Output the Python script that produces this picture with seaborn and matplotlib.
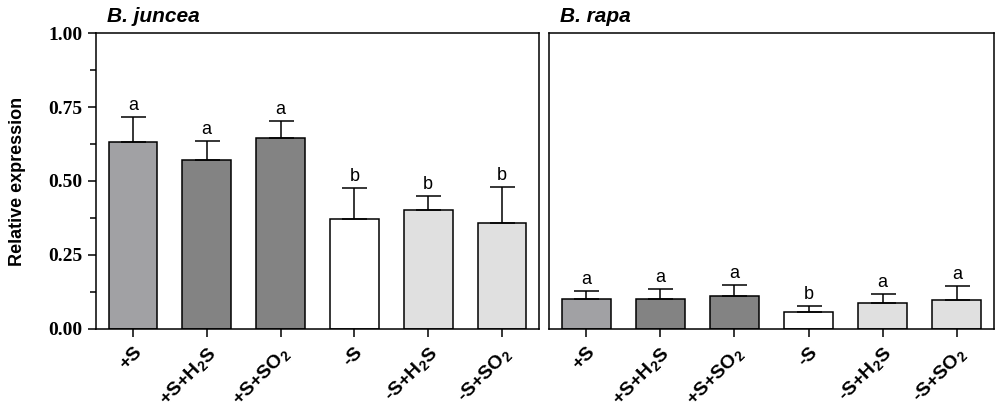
import numpy as np
import pandas as pd
import seaborn as sns
import matplotlib
matplotlib.use('Agg')
import matplotlib.pyplot as plt
from matplotlib.ticker import MultipleLocator

# data
treatments = ['+S', '+S+H2S', '+S+SO2', '-S', '-S+H2S', '-S+SO2']
tick_labels = [r'+S', r'+S+H$_\mathbf{2}$S', r'+S+SO$_\mathbf{2}$',
               r'-S', r'-S+H$_\mathbf{2}$S', r'-S+SO$_\mathbf{2}$']
juncea_mean = [0.632, 0.570, 0.646, 0.370, 0.401, 0.359]
juncea_sd = [0.085, 0.066, 0.058, 0.106, 0.049, 0.121]
juncea_letters = ['a', 'a', 'a', 'b', 'b', 'b']
rapa_mean = [0.099, 0.101, 0.110, 0.057, 0.087, 0.096]
rapa_sd = [0.028, 0.033, 0.038, 0.019, 0.030, 0.050]
rapa_letters = ['a', 'a', 'a', 'b', 'a', 'a']
bar_colors = ['#a1a1a4', '#838383', '#838383', '#ffffff', '#e0e0e0', '#e0e0e0']

sns.set_style('ticks')
plt.rcParams['font.family'] = ['Liberation Sans', 'DejaVu Sans']
plt.rcParams['mathtext.fontset'] = 'custom'
plt.rcParams['mathtext.bf'] = 'Liberation Sans:bold'
plt.rcParams['mathtext.rm'] = 'Liberation Sans'
for key in ['text.color', 'axes.edgecolor', 'axes.labelcolor',
            'xtick.color', 'ytick.color']:
    plt.rcParams[key] = 'black'

fig = plt.figure(figsize=(10, 4.16), dpi=100)
ax1 = fig.add_axes([0.096, 0.21, 0.443, 0.710])
ax2 = fig.add_axes([0.549, 0.21, 0.445, 0.710])

palette = dict(zip(treatments, bar_colors))


def draw_panel(ax, mean, sd, letters, title):
    df = pd.DataFrame({'treatment': treatments, 'value': mean})
    sns.barplot(data=df, x='treatment', y='value', hue='treatment',
                palette=palette, order=treatments, hue_order=treatments,
                width=0.66, edgecolor='black', linewidth=1.1,
                errorbar=None, legend=False, ax=ax, saturation=1)
    xs = np.arange(len(treatments))
    ax.errorbar(xs, mean, yerr=[np.zeros(len(sd)), sd], fmt='none',
                ecolor='black', elinewidth=1.1, capsize=9, capthick=1.1)
    for x, m, s, l in zip(xs, mean, sd, letters):
        ax.annotate(l, (x, m + s), xytext=(0, 2), textcoords='offset points',
                    ha='center', va='bottom', fontsize=13)
    ax.set_xlim(-0.5, 5.5)
    ax.set_ylim(0, 1.0)
    ax.set_xlabel('')
    ax.set_ylabel('')
    ax.set_xticks(xs)
    ax.set_xticklabels(tick_labels, rotation=45, ha='right',
                       rotation_mode='anchor', fontsize=14, fontweight='bold')
    ax.tick_params(axis='x', direction='out', length=6, width=1.1, pad=5)
    for sp in ax.spines.values():
        sp.set_visible(True)
        sp.set_linewidth(1.1)
    ax.text(0.025, 1.025, title, transform=ax.transAxes, fontsize=15,
            fontweight='bold', fontstyle='italic', ha='left', va='bottom')


draw_panel(ax1, juncea_mean, juncea_sd, juncea_letters, 'B. juncea')
draw_panel(ax2, rapa_mean, rapa_sd, rapa_letters, 'B. rapa')

ax1.yaxis.set_major_locator(MultipleLocator(0.25))
ax1.yaxis.set_minor_locator(MultipleLocator(0.125))
ax1.set_yticklabels([f'{v:.2f}' for v in ax1.get_yticks()],
                    family='Liberation Serif', fontweight='bold', fontsize=14)
ax1.tick_params(axis='y', which='major', direction='out', length=6, width=1.1)
ax1.tick_params(axis='y', which='minor', direction='out', length=4, width=1.1)
ax1.set_ylabel('Relative expression', fontsize=13, fontweight='bold', labelpad=16)

ax2.set_yticks([])

fig.savefig('out.png', dpi=100)
